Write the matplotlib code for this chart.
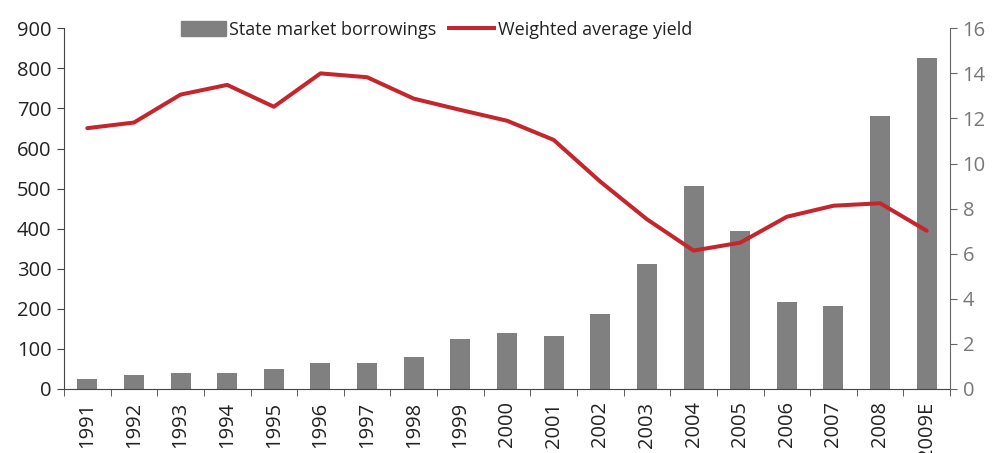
import numpy as np
import matplotlib
matplotlib.use("Agg")
import matplotlib.pyplot as plt
from matplotlib.patches import Patch
from matplotlib.lines import Line2D

plt.rcParams['font.family'] = ['Open Sans', 'DejaVu Sans']

# --- datos ---
anios = ['1991', '1992', '1993', '1994', '1995', '1996', '1997', '1998', '1999', '2000',
         '2001', '2002', '2003', '2004', '2005', '2006', '2007', '2008', '2009E']
prestamos = [25, 35, 40, 40, 50, 65, 65, 80, 125, 140,
             132, 187, 312, 507, 395, 217, 207, 680, 825]
rendimiento = [11.57, 11.82, 13.06, 13.49, 12.52, 14.0, 13.83, 12.88, 12.38, 11.9,
               11.05, 9.2, 7.53, 6.14, 6.49, 7.64, 8.13, 8.24, 7.02]

gris = '#808080'
rojo = '#C4262E'
x = np.arange(len(anios))

fig = plt.figure(figsize=(9.92, 4.53), dpi=100)
ax = fig.add_axes([0.0645, 0.1413, 0.8932, 0.7962])
ax2 = ax.twinx()

ax.bar(x, prestamos, width=0.43, color=gris, zorder=2)
ax2.plot(x, rendimiento, color=rojo, lw=2.9, solid_capstyle='round', zorder=3)

# eje izquierdo
ax.set_ylim(0, 900)
ax.set_yticks(np.arange(0, 901, 100))
ax.set_xlim(-0.5, len(anios) - 0.5)
ax.tick_params(axis='y', direction='out', length=5, labelsize=14.5, colors='#444444',
               labelcolor='#222222', pad=4)

# eje derecho
ax2.set_ylim(0, 16)
ax2.set_yticks(np.arange(0, 17, 2))
ax2.tick_params(axis='y', direction='out', length=5, labelsize=14.5, colors='#666666',
                labelcolor='#777777', pad=4)

# eje x: etiquetas en el centro, marcas entre categorias
ax.set_xticks(x)
ax.set_xticklabels(anios, rotation=90, fontsize=14.5, color='#222222')
ax.set_xticks(np.arange(-0.5, len(anios), 1), minor=True)
ax.tick_params(axis='x', which='major', length=0, pad=9)
ax.tick_params(axis='x', which='minor', direction='out', length=5, color='#444444')

for a in (ax, ax2):
    a.spines['top'].set_visible(False)
ax.spines['left'].set_color('#444444')
ax.spines['bottom'].set_color('#444444')
ax.spines['right'].set_visible(False)
ax2.spines['left'].set_visible(False)
ax2.spines['bottom'].set_visible(False)
ax2.spines['right'].set_color('#666666')

handles = [Patch(color=gris), Line2D([0], [0], color=rojo, lw=2.9)]
fig.legend(handles, ['State market borrowings', 'Weighted average yield'],
           loc='center', bbox_to_anchor=(0.44, 0.934), ncol=2, frameon=False,
           fontsize=13, handlelength=2.5, handleheight=0.9, columnspacing=0.7,
           handletextpad=0.2, labelcolor='#222222', borderpad=0.0)

fig.savefig('out.png', dpi=100)
